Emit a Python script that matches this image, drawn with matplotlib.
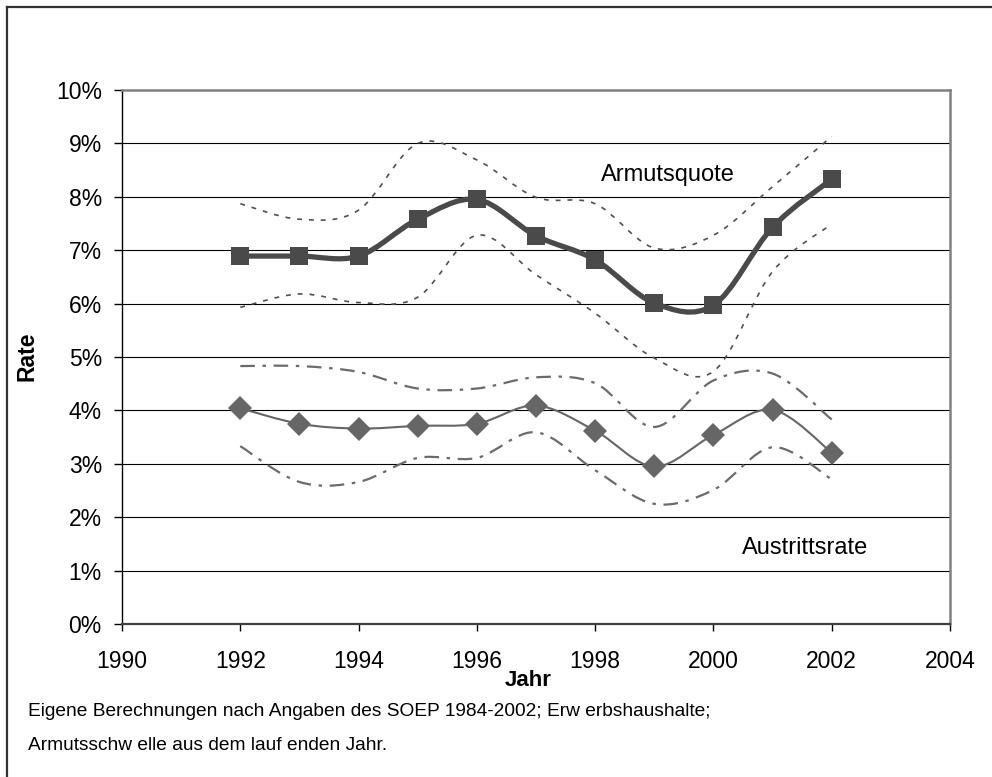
import matplotlib
matplotlib.use("Agg")
import matplotlib.pyplot as plt
from matplotlib import font_manager
from matplotlib.path import Path
from matplotlib.patches import PathPatch
from matplotlib.lines import Line2D
import numpy as np

plt.rcParams['font.family'] = ['Liberation Sans', 'DejaVu Sans']
plt.rcParams['lines.scale_dashes'] = False

# Jahre
years = [1992, 1993, 1994, 1995, 1996, 1997, 1998, 1999, 2000, 2001, 2002]

# Armutsquote (%) mit Konfidenzband
armut = [6.89, 6.89, 6.89, 7.58, 7.95, 7.27, 6.82, 6.01, 5.97, 7.43, 8.33]
armut_hi = [7.87, 7.58, 7.75, 9.0, 8.69, 7.99, 7.87, 7.04, 7.28, 8.19, 9.13]
armut_lo = [5.93, 6.18, 6.02, 6.12, 7.28, 6.54, 5.82, 4.98, 4.73, 6.6, 7.49]

# Austrittsrate (%) mit Konfidenzband
austritt = [4.04, 3.75, 3.66, 3.71, 3.75, 4.09, 3.62, 2.95, 3.54, 4.01, 3.21]
austritt_hi = [4.83, 4.83, 4.72, 4.41, 4.41, 4.62, 4.51, 3.69, 4.56, 4.69, 3.83]
austritt_lo = [3.33, 2.66, 2.66, 3.11, 3.11, 3.59, 2.88, 2.25, 2.51, 3.31, 2.71]

y_ticks = list(range(0, 11))
y_labels = [f"{v}%" for v in y_ticks]
x_ticks = list(range(1990, 2005, 2))

footnote_1 = "Eigene Berechnungen nach Angaben des SOEP 1984-2002; Erw erbshaushalte;"
footnote_2 = "Armutsschw elle aus dem lauf enden Jahr."


# geglaettete Linie wie in Excel (Bezier durch die Punkte)
def smooth_path(xs, ys):
    pts = np.column_stack([xs, ys]).astype(float)
    verts = [pts[0]]
    codes = [Path.MOVETO]
    n = len(pts)
    for i in range(n - 1):
        p0 = pts[i - 1] if i > 0 else pts[i]
        p1 = pts[i]
        p2 = pts[i + 1]
        p3 = pts[i + 2] if i + 2 < n else pts[i + 1]
        verts += [p1 + (p2 - p0) / 6, p2 - (p3 - p1) / 6, p2]
        codes += [Path.CURVE4] * 3
    return Path(verts, codes)


def draw_smooth(ax, xs, ys, color, lw, ls, z):
    patch = PathPatch(smooth_path(xs, ys), fill=False, edgecolor=color,
                      linewidth=lw, linestyle=ls, zorder=z, capstyle='butt',
                      joinstyle='round')
    ax.add_patch(patch)


# schmale Schrift fuer die Fussnote, falls vorhanden
installed = {f.name for f in font_manager.fontManager.ttflist}
if 'Liberation Sans Narrow' in installed:
    note_family, note_size = 'Liberation Sans Narrow', 16.5
else:
    note_family, note_size = 'Liberation Sans', 13.8

fig = plt.figure(figsize=(9.92, 7.77), dpi=100)
ax = fig.add_axes([122 / 992, 1 - 624 / 777, 828 / 992, 534 / 777])

ax.set_xlim(1990, 2004)
ax.set_ylim(0, 10)

# Gitternetz
for v in y_ticks[1:-1]:
    ax.axhline(v, color='black', lw=0.8, zorder=1)

band_armut = (0, (3.5, 5))
band_austritt = (0, (10.5, 5.5, 2.5, 5.5))

draw_smooth(ax, years, armut_hi, '#505050', 1.2, band_armut, 3)
draw_smooth(ax, years, armut_lo, '#505050', 1.2, band_armut, 3)
draw_smooth(ax, years, austritt_hi, '#6b6b6b', 1.6, band_austritt, 3)
draw_smooth(ax, years, austritt_lo, '#6b6b6b', 1.6, band_austritt, 3)

draw_smooth(ax, years, armut, '#4a4a4a', 3.8, '-', 4)
draw_smooth(ax, years, austritt, '#666666', 1.5, '-', 4)

ax.plot(years, armut, linestyle='none', marker='s', markersize=13,
        color='#4a4a4a', markeredgewidth=0, zorder=5)
ax.plot(years, austritt, linestyle='none', marker='D', markersize=12,
        color='#666666', markeredgewidth=0, zorder=5)

ax.text(1998.1, 8.41, "Armutsquote", fontsize=17, ha='left', va='center')
ax.text(2000.48, 1.42, "Austrittsrate", fontsize=17, ha='left', va='center')

# Achsen
ax.spines['top'].set_color('#808080')
ax.spines['right'].set_color('#808080')
ax.spines['top'].set_linewidth(1.8)
ax.spines['right'].set_linewidth(1.8)
ax.spines['left'].set_color('black')
ax.spines['left'].set_linewidth(1.0)
ax.spines['bottom'].set_color('#404040')
ax.spines['bottom'].set_linewidth(1.6)

ax.set_yticks(y_ticks)
ax.set_yticklabels(y_labels)
ax.set_xticks(x_ticks)
ax.tick_params(axis='y', direction='out', length=6, width=1, pad=8.5,
               labelsize=16.5, colors='black')
ax.tick_params(axis='x', direction='out', length=5, width=1, pad=14,
               labelsize=16.5, colors='black')

fig.text(27 / 992, 1 - 356 / 777, "Rate", fontsize=16.5, fontweight='bold',
         rotation=90, ha='center', va='center')
fig.text(528 / 992, 1 - 681 / 777, "Jahr", fontsize=16, fontweight='bold',
         ha='center', va='center')

fig.text(28 / 992, 1 - 711 / 777, footnote_1, fontsize=note_size,
         family=note_family, ha='left', va='center')
fig.text(28 / 992, 1 - 746 / 777, footnote_2, fontsize=note_size,
         family=note_family, ha='left', va='center')

# Rahmen
fig.add_artist(Line2D([7 / 992, 7 / 992], [0, 1 - 7 / 777], color='#333333',
                      lw=1.6, transform=fig.transFigure))
fig.add_artist(Line2D([7 / 992, 1], [1 - 7 / 777, 1 - 7 / 777], color='#333333',
                      lw=1.6, transform=fig.transFigure))

fig.savefig("out.png", dpi=100)
